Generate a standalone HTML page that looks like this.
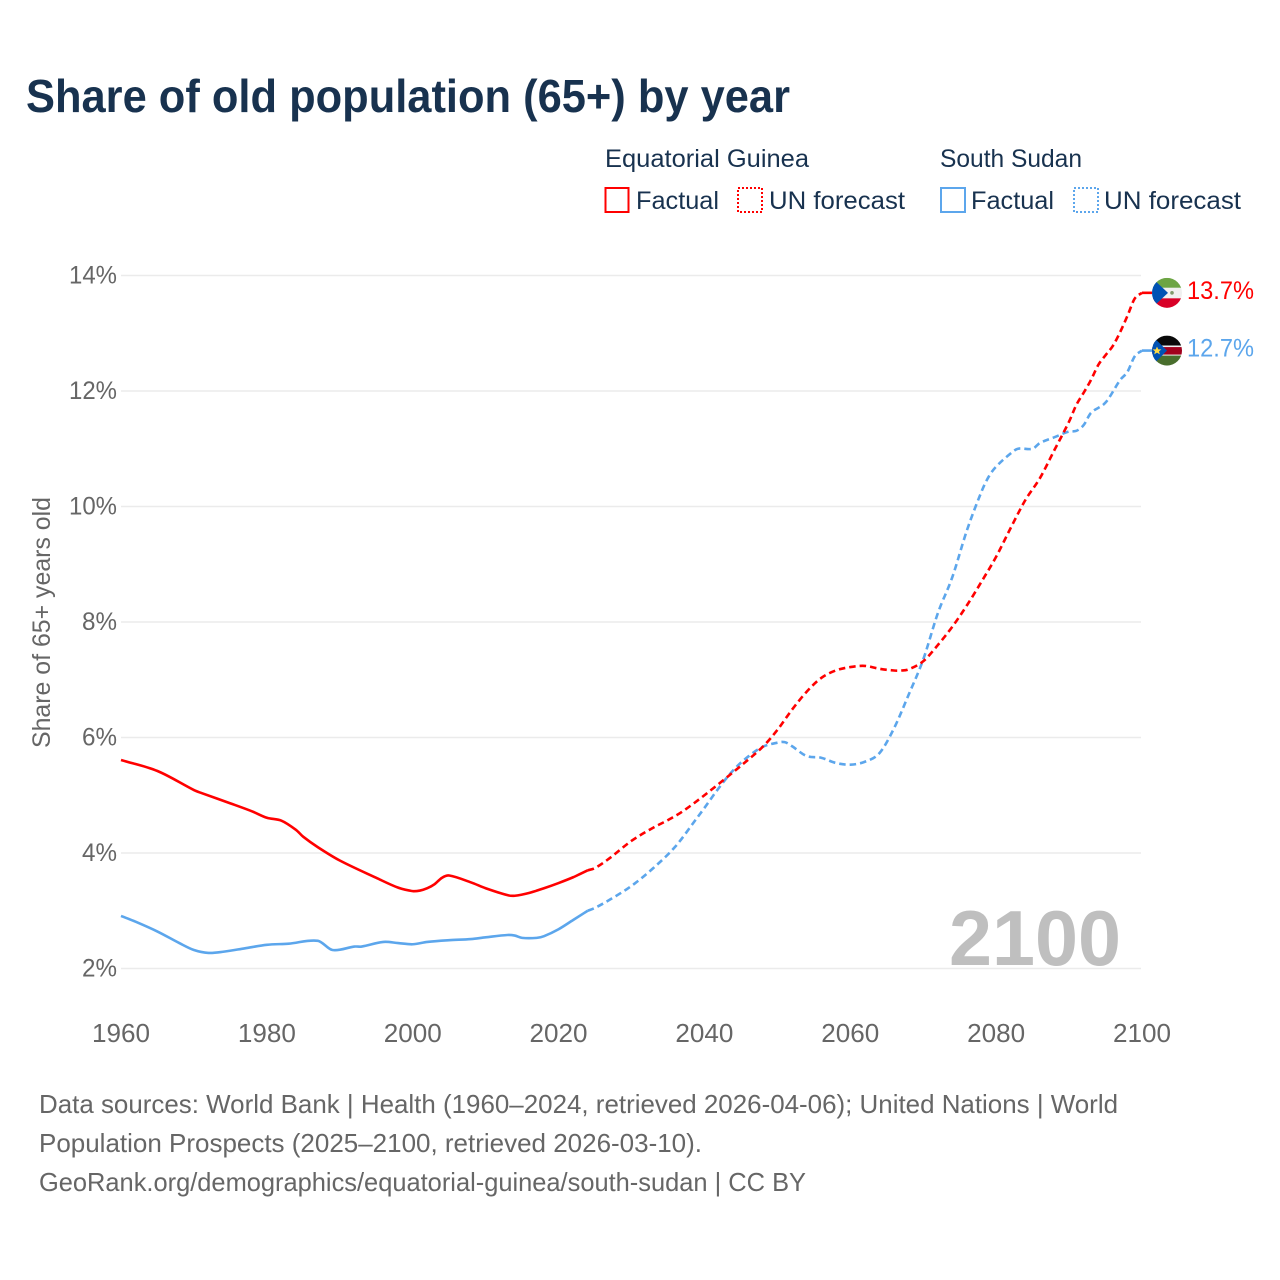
<!DOCTYPE html>
<html lang="en">
<head>
<meta charset="utf-8">
<title>Share of old population (65+) by year</title>
<style>
html,body{margin:0;padding:0;background:#fff;}
svg{display:block;font-family:"Liberation Sans",sans-serif;}
</style>
</head>
<body>
<svg id="chart" xmlns="http://www.w3.org/2000/svg" width="1280" height="1280" viewBox="0 0 1280 1280">
<defs>
<clipPath id="flag-clip-a"><circle cx="0" cy="0" r="15"/></clipPath>
</defs>
<rect x="0" y="0" width="1280" height="1280" fill="#fff"/>
<text x="26" y="112" font-size="46" font-weight="700" fill="#18324f" textLength="764" lengthAdjust="spacingAndGlyphs">Share of old population (65+) by year</text>

<g font-size="25" fill="#18324f">
<text x="605" y="167" textLength="204" lengthAdjust="spacingAndGlyphs">Equatorial Guinea</text>
<text x="940" y="167" textLength="142" lengthAdjust="spacingAndGlyphs">South Sudan</text>
<rect x="605.5" y="188" width="23" height="24" fill="none" stroke="#ff0000" stroke-width="2"/>
<text x="636" y="209" textLength="83" lengthAdjust="spacingAndGlyphs">Factual</text>
<rect x="738" y="188" width="24" height="24" fill="none" stroke="#ff0000" stroke-width="2" stroke-dasharray="2 2"/>
<text x="769" y="209" textLength="136" lengthAdjust="spacingAndGlyphs">UN forecast</text>
<rect x="941" y="188" width="24" height="24" fill="none" stroke="#5ca6ec" stroke-width="2"/>
<text x="971" y="209" textLength="83" lengthAdjust="spacingAndGlyphs">Factual</text>
<rect x="1074" y="188" width="24" height="24" fill="none" stroke="#5ca6ec" stroke-width="2" stroke-dasharray="2 2"/>
<text x="1104" y="209" textLength="137" lengthAdjust="spacingAndGlyphs">UN forecast</text>
</g>

<g id="grid"></g>
<text x="949" y="965" font-size="78" font-weight="700" fill="#bfbfbf" textLength="172" lengthAdjust="spacingAndGlyphs">2100</text>
<g id="yticks" font-size="25" fill="#666"></g>
<g id="xticks" font-size="25" fill="#666"></g>
<text transform="translate(50,622.5) rotate(-90)" text-anchor="middle" font-size="25" fill="#666" textLength="251" lengthAdjust="spacingAndGlyphs">Share of 65+ years old</text>
<g id="series"></g>
<g id="ends"></g>

<g font-size="26" fill="#666">
<text x="39" y="1113" textLength="1079" lengthAdjust="spacingAndGlyphs">Data sources: World Bank | Health (1960–2024, retrieved 2026-04-06); United Nations | World</text>
<text x="39" y="1152" textLength="663" lengthAdjust="spacingAndGlyphs">Population Prospects (2025–2100, retrieved 2026-03-10).</text>
<text x="39" y="1191" textLength="767" lengthAdjust="spacingAndGlyphs">GeoRank.org/demographics/equatorial-guinea/south-sudan | CC BY</text>
</g>
</svg>
<script>
const yTickValues = [2, 4, 6, 8, 10, 12, 14];
const xTickValues = [1960, 1980, 2000, 2020, 2040, 2060, 2080, 2100];

const egFactualYears = [1960,1965,1970,1971,1975,1978,1980,1982,1984,1985,1987,1990,1995,1998,2000,2001,2002,2003,2004,2005,2008,2010,2013,2014,2016,2018,2020,2022,2023,2024];
const egFactualValues = [5.61,5.42,5.09,5.04,4.86,4.72,4.61,4.56,4.40,4.28,4.10,3.87,3.57,3.40,3.34,3.35,3.39,3.46,3.57,3.61,3.49,3.39,3.27,3.26,3.31,3.39,3.48,3.58,3.64,3.70];
const egForecastYears = [2024,2025,2027,2030,2033,2035,2037,2040,2045,2048,2050,2052,2054,2056,2058,2060,2062,2064,2066,2067,2068,2070,2072,2074,2076,2078,2080,2082,2084,2086,2088,2090,2091,2092,2093,2094,2095,2096,2097,2098,2099,2100];
const egForecastValues = [3.70,3.74,3.91,4.21,4.44,4.57,4.72,5.00,5.51,5.84,6.13,6.48,6.79,7.03,7.16,7.22,7.24,7.19,7.16,7.16,7.18,7.32,7.60,7.92,8.29,8.70,9.13,9.63,10.11,10.49,10.98,11.47,11.76,11.97,12.19,12.45,12.62,12.78,13.02,13.30,13.60,13.70];

const ssFactualYears = [1960,1962,1965,1968,1970,1972,1974,1977,1980,1983,1987,1989,1992,1993,1996,1998,2000,2002,2005,2008,2010,2013,2014,2015,2017,2018,2020,2022,2024];
const ssFactualValues = [2.91,2.81,2.64,2.44,2.32,2.27,2.29,2.35,2.41,2.43,2.48,2.32,2.38,2.38,2.46,2.44,2.42,2.46,2.49,2.51,2.54,2.58,2.57,2.53,2.53,2.56,2.68,2.84,3.00];
const ssForecastYears = [2024,2025,2027,2030,2033,2036,2039,2040,2042,2044,2046,2048,2050,2051,2052,2054,2056,2058,2060,2062,2064,2066,2068,2070,2072,2074,2076,2078,2079,2080,2082,2083,2085,2086,2088,2090,2091,2092,2093,2095,2097,2098,2099,2100];
const ssForecastValues = [3.00,3.05,3.19,3.43,3.74,4.11,4.61,4.78,5.13,5.44,5.67,5.84,5.91,5.92,5.85,5.68,5.65,5.56,5.53,5.58,5.73,6.16,6.74,7.35,8.15,8.78,9.59,10.26,10.52,10.69,10.92,11.00,11.00,11.10,11.20,11.30,11.31,11.41,11.62,11.80,12.19,12.33,12.60,12.70];

const RED = '#ff0000';
const BLUE = '#5ca6ec';
const NS = 'http://www.w3.org/2000/svg';

function xScale(year) { return 121 + (year - 1960) * (1021 / 140); }
function yScale(v) { return 968.5 - (v - 2) * (693 / 12); }

function make(tag, parent, attrs) {
  const el = document.createElementNS(NS, tag);
  for (const k in attrs) el.setAttribute(k, attrs[k]);
  parent.appendChild(el);
  return el;
}

function smoothPath(years, values) {
  const p = years.map((yr, i) => [xScale(yr), yScale(values[i])]);
  const slope = p.map((pt, i) => {
    const a = p[Math.max(i - 1, 0)], c = p[Math.min(i + 1, p.length - 1)];
    return (c[1] - a[1]) / (c[0] - a[0]);
  });
  let d = 'M' + p[0][0].toFixed(2) + ' ' + p[0][1].toFixed(2);
  for (let i = 0; i < p.length - 1; i++) {
    const b = p[i], c = p[i + 1], h = (c[0] - b[0]) / 3;
    d += 'C' + (b[0] + h).toFixed(2) + ' ' + (b[1] + slope[i] * h).toFixed(2) + ' ' + (c[0] - h).toFixed(2) + ' ' + (c[1] - slope[i + 1] * h).toFixed(2) + ' ' + c[0].toFixed(2) + ' ' + c[1].toFixed(2);
  }
  return d;
}

const gridG = document.getElementById('grid');
const yG = document.getElementById('yticks');
yTickValues.forEach(function (v) {
  const line = make('line', gridG, {x1: 121, x2: 1141, y1: yScale(v), y2: yScale(v), stroke: '#ebebeb', 'stroke-width': 1.6});
  
  
  const t = make('text', yG, {x: 117, y: yScale(v) + 8, 'text-anchor': 'end', textLength: v >= 10 ? 48 : 35, lengthAdjust: 'spacingAndGlyphs'});
  t.textContent = v + '%';
  
  
});

const xG = document.getElementById('xticks');
xTickValues.forEach(function (yr) {
  const t = make('text', xG, {x: xScale(yr), y: 1042, 'text-anchor': 'middle', 'font-size': 26, textLength: 58, lengthAdjust: 'spacingAndGlyphs'});
  t.textContent = String(yr);
  
  
});

const seriesG = document.getElementById('series');

const ssFact = make('path', seriesG, {d: smoothPath(ssFactualYears, ssFactualValues), fill: 'none', stroke: BLUE, 'stroke-width': 2.6, 'stroke-linejoin': 'round'});


const ssFore = make('path', seriesG, {d: smoothPath(ssForecastYears, ssForecastValues), fill: 'none', stroke: BLUE, 'stroke-width': 2.6, 'stroke-dasharray': '6.5 4'});


const egFact = make('path', seriesG, {d: smoothPath(egFactualYears, egFactualValues), fill: 'none', stroke: RED, 'stroke-width': 2.6, 'stroke-linejoin': 'round'});


const egFore = make('path', seriesG, {d: smoothPath(egForecastYears, egForecastValues), fill: 'none', stroke: RED, 'stroke-width': 2.6, 'stroke-dasharray': '6.5 4'});



const endsG = document.getElementById('ends');
const FLAG_X = 1167;

function flagGroup(name, v) {
  const g = make('g', endsG, {transform: 'translate(' + FLAG_X + ',' + yScale(v) + ')', 'clip-path': 'url(#flag-clip-a)'});
  
  
  return g;
}

const egEnd = egForecastValues[egForecastValues.length - 1];
const ssEnd = ssForecastValues[ssForecastValues.length - 1];

const egStub = make('line', endsG, {x1: xScale(2100), x2: FLAG_X - 14, y1: yScale(egEnd), y2: yScale(egEnd), stroke: RED, 'stroke-width': 2.6});


const ssStub = make('line', endsG, {x1: xScale(2100), x2: FLAG_X - 14, y1: yScale(ssEnd), y2: yScale(ssEnd), stroke: BLUE, 'stroke-width': 2.6});



const gq = flagGroup('flag-equatorial-guinea', egEnd);
make('rect', gq, {x: -15, y: -15, width: 30, height: 10, fill: '#6da544'});
make('rect', gq, {x: -15, y: -5, width: 30, height: 10.5, fill: '#f0f0f0'});
make('rect', gq, {x: -15, y: 5.5, width: 30, height: 10, fill: '#d80027'});
make('polygon', gq, {points: '-15,-15 1,0 -15,15', fill: '#0052b4'});
make('circle', gq, {cx: 5, cy: 0, r: 1.8, fill: '#7f9a6b'});

const ss = flagGroup('flag-south-sudan', ssEnd);
make('rect', ss, {x: -15, y: -15, width: 30, height: 10, fill: '#0a0a0a'});
make('rect', ss, {x: -15, y: -5, width: 30, height: 10, fill: '#f0f0f0'});
make('rect', ss, {x: -15, y: -3.5, width: 30, height: 7.5, fill: '#a2001d'});
make('rect', ss, {x: -15, y: 5, width: 30, height: 10, fill: '#496e2d'});
make('polygon', ss, {points: '-15,-15 0,0 -15,15', fill: '#0052b4'});
make('polygon', ss, {points: '-10,-4 -8.7,-1.2 -5.6,-1.2 -8,0.8 -7.2,3.8 -10,2.1 -12.8,3.8 -12,0.8 -14.4,-1.2 -11.3,-1.2', fill: '#ffda44'});

const egLabel = make('text', endsG, {x: 1187, y: yScale(egEnd) + 6, 'font-size': 25, fill: RED, textLength: 67, lengthAdjust: 'spacingAndGlyphs'});
egLabel.textContent = egEnd.toFixed(1) + '%';


const ssLabel = make('text', endsG, {x: 1187, y: yScale(ssEnd) + 6, 'font-size': 25, fill: BLUE, textLength: 67, lengthAdjust: 'spacingAndGlyphs'});
ssLabel.textContent = ssEnd.toFixed(1) + '%';


</script>
</body>
</html>
